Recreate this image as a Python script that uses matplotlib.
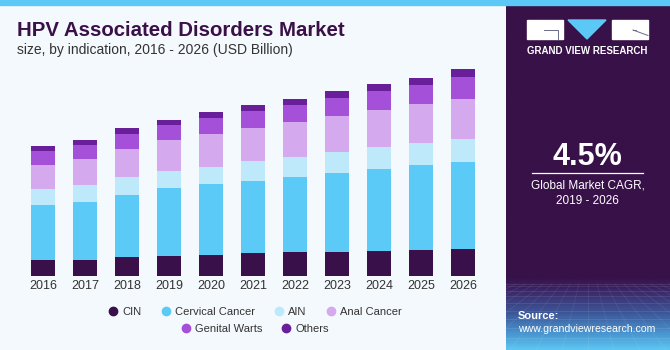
import matplotlib
matplotlib.use('Agg')
import matplotlib.pyplot as plt
import numpy as np
from matplotlib.patches import Rectangle, Polygon
from matplotlib.lines import Line2D
from matplotlib.colors import LinearSegmentedColormap

# ---------------- data (USD Billion, estimated) ----------------
years = ['2016', '2017', '2018', '2019', '2020', '2021', '2022', '2023', '2024', '2025', '2026']
cin = [0.80, 0.80, 0.93, 1.02, 1.07, 1.17, 1.18, 1.20, 1.25, 1.28, 1.37]
cervical = [2.75, 2.92, 3.13, 3.37, 3.52, 3.60, 3.78, 3.95, 4.12, 4.25, 4.32]
ain = [0.78, 0.82, 0.88, 0.87, 0.88, 0.98, 1.00, 1.05, 1.08, 1.13, 1.15]
anal = [1.23, 1.32, 1.42, 1.52, 1.63, 1.67, 1.75, 1.82, 1.87, 1.92, 2.02]
genital = [0.70, 0.70, 0.75, 0.75, 0.78, 0.83, 0.83, 0.88, 0.92, 0.97, 1.07]
others = [0.23, 0.25, 0.28, 0.28, 0.30, 0.32, 0.33, 0.33, 0.37, 0.35, 0.42]
series_names = ['CIN', 'Cervical Cancer', 'AIN', 'Anal Cancer', 'Genital Warts', 'Others']
series = [cin, cervical, ain, anal, genital, others]
colors = ['#3a104a', '#5ccaf7', '#bde9fa', '#d5a9ee', '#a550d8', '#6a1f9a']

W, H = 670, 350
BG = '#f4f9fd'
PANEL = '#371148'
fig = plt.figure(figsize=(6.7, 3.5), dpi=100, facecolor=BG)

# ---------------- background / decorations (pixel coords) ----------------
bg = fig.add_axes([0, 0, 1, 1])
bg.axis('off')
bg.add_patch(Rectangle((0, 0), W, 5, color='#5bc8f5', zorder=2))
grad = np.linspace(0, 1, 300).reshape(-1, 1)
cmap = LinearSegmentedColormap.from_list(
    'p', [(0, PANEL), (0.79, PANEL), (0.82, '#3a2060'), (0.90, '#3d5a9c'),
          (0.96, '#4a9ad4'), (1, '#5cc4f0')])
bg.imshow(grad, extent=[506, 670, 350, 5], cmap=cmap, aspect='auto', zorder=1,
          interpolation='bilinear')
# faint perspective grid texture at panel bottom
for i in range(9):
    yy = 284 + (i ** 1.5) * 2.4
    bg.plot([506, 670], [yy, yy], color='white', alpha=0.10, lw=0.6, zorder=2)
for k in range(-12, 13):
    x0 = 588 + k * 9
    x1 = 588 + k * 26
    bg.plot([x0, x1], [284, 350], color='white', alpha=0.08, lw=0.6, zorder=2)

# logo
bg.add_patch(Rectangle((527, 20), 36, 19, color='white', zorder=3))
bg.add_patch(Polygon([(568, 20), (606, 20), (587, 39)], closed=True, color='#5bc8f5', zorder=3))
bg.add_patch(Rectangle((611.5, 20), 36, 19, color='white', zorder=3))
bg.plot([544, 558, 558], [30, 30, 39], color='#6a6a8a', lw=0.7, zorder=4)
bg.plot([633, 648], [30, 35.5], color='#6a6a8a', lw=0.7, zorder=4)
bg.plot([633, 636], [30, 30], color='#6a6a8a', lw=0.7, zorder=4)
bg.text(587.5, 51, 'GRAND VIEW RESEARCH', color='white', fontsize=7, fontweight='bold',
        ha='center', va='center', family='Liberation Sans', zorder=4)

bg.text(587.5, 157, '4.5%', color='white', fontsize=22, fontweight='bold',
        ha='center', va='center', family='Liberation Sans', zorder=4)
bg.plot([532, 643], [173.3, 173.3], color='white', lw=0.9, zorder=4)
bg.text(587.5, 185.5, 'Global Market CAGR,', color='white', fontsize=8.5,
        ha='center', va='center', family='Liberation Sans', zorder=4)
bg.text(587.5, 201.5, '2019 - 2026', color='white', fontsize=8.5,
        ha='center', va='center', family='Liberation Sans', zorder=4)
bg.text(518, 316, 'Source:', color='white', fontsize=8, fontweight='bold',
        ha='left', va='center', family='Liberation Sans', zorder=4)
bg.text(518, 329.5, 'www.grandviewresearch.com', color='white', fontsize=7.6,
        ha='left', va='center', family='Liberation Sans', zorder=4)

# titles
bg.text(17, 30, 'HPV Associated Disorders Market', color='#3a1048', fontsize=14.7,
        fontweight='bold', ha='left', va='center', family='Liberation Sans', zorder=4)
bg.text(17, 50, 'size, by indication, 2016 - 2026 (USD Billion)', color='#333333', fontsize=10,
        ha='left', va='center', family='Liberation Sans', zorder=4)
bg.set_xlim(0, W)
bg.set_ylim(H, 0)

# ---------------- bars ----------------
ax = fig.add_axes([1 / W, (H - 276) / H, 504 / W, 216 / H])
ax.set_facecolor('none')
x = np.arange(len(years))
bottom = np.zeros(len(years))
handles = []
for name, vals, c in zip(series_names, series, colors):
    ax.bar(x, vals, width=0.571, bottom=bottom, color=c, linewidth=0, zorder=3)
    bottom += np.array(vals)
    handles.append(Line2D([], [], marker='o', ls='', color=c, markersize=6, label=name))
ax.set_xlim(-1, 11)
ax.set_ylim(0, 10.8)
ax.set_xticks(x)
ax.set_xticklabels(years, fontsize=9, color='#333333', family='Liberation Sans')
ax.tick_params(axis='x', length=0, pad=3)
ax.set_yticks([])
for s in ax.spines.values():
    s.set_visible(False)

leg_kw = dict(frameon=False, handlelength=0.8, handletextpad=0.4, columnspacing=1.8,
              prop={'family': 'Liberation Sans', 'size': 8}, labelcolor='#333333',
              borderpad=0, borderaxespad=0)
l1 = fig.legend(handles=handles[:4], loc='center', bbox_to_anchor=(255 / W, 1 - 312 / H),
                ncol=4, **leg_kw)
l2 = fig.legend(handles=handles[4:], loc='center', bbox_to_anchor=(255 / W, 1 - 329 / H),
                ncol=2, **leg_kw)

fig.savefig('out.png', dpi=100, facecolor=BG)
